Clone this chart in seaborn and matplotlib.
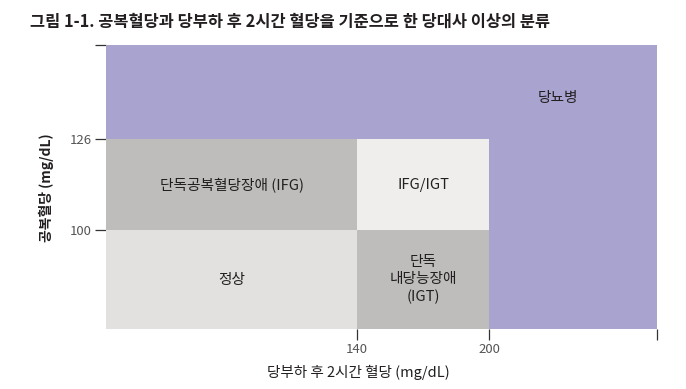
import matplotlib
matplotlib.use("Agg")
import matplotlib.pyplot as plt
import seaborn as sns

sns.set_theme(style="white")
plt.rcParams['font.family'] = ['Noto Sans CJK KR', 'DejaVu Sans']

# Axis extents (schematic) and thresholds
x_min, x_max = 26, 276
y_min, y_max = 72, 152.6
x_ticks = [140, 200, x_max]
x_tick_labels = ["140", "200", ""]
y_ticks = [100, 126, y_max]
y_tick_labels = ["100", "126", ""]

# Regions: name, x0, x1, y0, y1, colour
region_names = ["당뇨병", "단독공복혈당장애 (IFG)", "IFG/IGT", "정상", "단독\n내당능장애\n(IGT)"]
region_x0 = [x_min, x_min, 140, x_min, 140]
region_x1 = [x_max, 140, 200, 140, 200]
region_y0 = [y_min, 100, 100, y_min, y_min]
region_y1 = [y_max, 126, 126, 100, 100]
region_colors = ["#A9A4CF", "#BEBDBB", "#EFEEEC", "#E2E1DF", "#BEBDBB"]
label_x = [231, 83, 170, 83, 170]
label_y = [137.6, 113, 113, 86, 86]

fig = plt.figure(figsize=(6.86, 3.89), dpi=100)
ax = fig.add_axes([106/686, 1-329/389, (657-106)/686, (329-45)/389])

for x0, x1, y0, y1, c in zip(region_x0, region_x1, region_y0, region_y1, region_colors):
    ax.bar(x0, y1 - y0, width=x1 - x0, bottom=y0, align='edge', color=c, linewidth=0)

for name, lx, ly in zip(region_names, label_x, label_y):
    ax.text(lx, ly, name, ha='center', va='center', fontsize=10.6, color='#231f20',
            linespacing=1.3)

ax.set_xlim(x_min, x_max)
ax.set_ylim(y_min, y_max)
ax.set_xticks(x_ticks)
ax.set_xticklabels(x_tick_labels)
ax.set_yticks(y_ticks)
ax.set_yticklabels(y_tick_labels)
for s in ax.spines.values():
    s.set_visible(False)
ax.tick_params(axis='both', which='both', length=8, width=0.9, color='#333333',
               labelsize=9.5, labelcolor='#555555', pad=2)
ax.tick_params(axis='x', bottom=True, direction='out')
ax.tick_params(axis='y', left=True, direction='out')

fig.text(30/686, 1-22/389, "그림 1-1. 공복혈당과 당부하 후 2시간 혈당을 기준으로 한 당대사 이상의 분류",
         ha='left', va='center', fontsize=11.8, fontweight='bold', color='#231f20')
fig.text(46/686, 1-188/389, "공복혈당 (mg/dL)", rotation=90, ha='center', va='center',
         fontsize=10, fontweight='bold', color='#231f20')
fig.text(358/686, 1-372/389, "당부하 후 2시간 혈당 (mg/dL)", ha='center', va='center',
         fontsize=10.5, fontweight='medium', color='#231f20')

fig.savefig("out.png", dpi=100)
